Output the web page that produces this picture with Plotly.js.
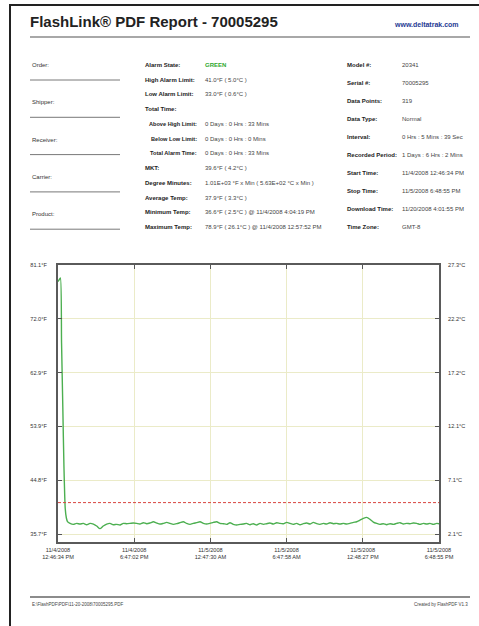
<!DOCTYPE html>
<html>
<head>
<meta charset="utf-8">
<script src="https://cdn.plot.ly/plotly-3.0.1.min.js"></script>
<style>
  html, body { margin: 0; padding: 0; background: #fff; }
  #chart { width: 479px; height: 626px; }
</style>
</head>
<body>
<div id="chart"></div>
<script>
// ---------------- DATA ----------------
const reportTitle = 'FlashLink® PDF Report - 70005295';
const siteText = 'www.deltatrak.com';

// elapsed hours since start (11/4/2008 12:46:34 PM)
const hours = [
  0.00, 0.09, 0.19, 0.28, 0.38, 0.47, 0.57, 0.66, 0.75,
  0.95, 1.21, 1.47, 1.73, 2.00, 2.26, 2.52, 2.79, 3.05, 3.31,
  3.57, 3.84, 4.10, 4.36, 4.63, 4.89, 5.15, 5.41, 5.68, 5.94,
  6.20, 6.46, 6.73, 6.99, 7.25, 7.52, 7.78, 8.04, 8.30, 8.57,
  8.83, 9.09, 9.36, 9.62, 9.88, 10.14, 10.41, 10.67, 10.93, 11.20,
  11.46, 11.72, 11.98, 12.25, 12.51, 12.77, 13.04, 13.30, 13.56, 13.82,
  14.09,
  14.35, 14.61, 14.87, 15.14, 15.40, 15.66, 15.93, 16.19, 16.45, 16.71,
  16.98, 17.24, 17.50, 17.77, 18.03, 18.29, 18.55, 18.82, 19.08, 19.34,
  19.61, 19.87, 20.13, 20.39, 20.66, 20.92, 21.18, 21.45, 21.71, 21.97,
  22.23, 22.50, 22.76, 23.02, 23.29, 23.55, 23.81, 24.07, 24.34, 24.60,
  24.86, 25.13, 25.39, 25.65, 25.91, 26.18, 26.44, 26.70, 26.97, 27.23,
  27.49, 27.75, 28.02, 28.28, 28.54, 28.81, 29.07, 29.33, 29.59, 29.86,
  30.04
];
const tempF = [
  78.3, 78.6, 78.9, 68.0, 57.0, 47.0, 40.0, 38.4, 37.8,
  37.49, 37.33, 37.49, 37.38, 37.49, 37.27, 37.49, 37.38, 37.05, 36.60,
  37.05, 37.38, 37.49, 37.27, 37.33, 37.21, 37.49, 37.44, 37.49, 37.55,
  37.49, 37.38, 37.61, 37.44, 37.55, 37.77, 37.55, 37.38, 37.49, 37.66,
  37.49, 37.33, 37.44, 37.61, 37.77, 37.49, 37.33, 37.49, 37.61, 37.77,
  37.49, 37.38, 37.49, 37.66, 37.77, 37.49, 37.44, 37.33, 37.61, 37.33,
  37.21,
  37.33, 37.38, 37.49, 37.27, 37.44, 37.21, 37.49, 37.33, 37.44, 37.55,
  37.38, 37.61, 37.49, 37.44, 37.66, 37.49, 37.33, 37.49, 37.27, 37.44,
  37.55, 37.38, 37.66, 37.44, 37.33, 37.49, 37.38, 37.61, 37.44, 37.49,
  37.38, 37.49, 37.38, 37.49, 37.66, 37.77, 38.05, 38.33, 38.50, 38.17,
  37.72, 37.49, 37.33, 37.44, 37.27, 37.44, 37.33, 37.49, 37.61, 37.38,
  37.49, 37.44, 37.55, 37.49, 37.33, 37.49, 37.38, 37.49, 37.33, 37.49,
  37.44
];

const highAlarmF = 41.0;
const yRangeF = [34.35, 81.1];
const xRangeHours = [0, 30.0392];

const yTickF = [35.7, 44.8, 53.9, 62.9, 72.0, 81.1];
const yTickFLabels = ['35.7°F', '44.8°F', '53.9°F', '62.9°F', '72.0°F', '81.1°F'];
const yTickCLabels = ['2.1°C', '7.1°C', '12.1°C', '17.2°C', '22.2°C', '27.3°C'];

const xTickHours = [0, 6.0078, 12.0157, 18.0235, 24.0314, 30.0392];
const xTickLabels = [
  '11/4/2008<br>12:46:34 PM', '11/4/2008<br>6:47:02 PM', '11/5/2008<br>12:47:30 AM',
  '11/5/2008<br>6:47:58 AM', '11/5/2008<br>12:48:27 PM', '11/5/2008<br>6:48:55 PM'
];

const leftLabels = ['Order:', 'Shipper:', 'Receiver:', 'Carrier:', 'Product:'];

const midLabels = [
  'Alarm State:', 'High Alarm Limit:', 'Low Alarm Limit:', 'Total Time:',
  'Above High Limit:', 'Below Low Limit:', 'Total Alarm Time:',
  'MKT:', 'Degree Minutes:', 'Average Temp:', 'Minimum Temp:', 'Maximum Temp:'
];
const midValues = [
  'GREEN', '41.0°F ( 5.0°C )', '33.0°F ( 0.6°C )', '',
  '0 Days : 0 Hrs : 33 Mins', '0 Days : 0 Hrs : 0 Mins', '0 Days : 0 Hrs : 33 Mins',
  '39.6°F ( 4.2°C )', '1.01E+03 °F x Min ( 5.63E+02 °C x Min )', '37.9°F ( 3.3°C )',
  '36.6°F ( 2.5°C ) @ 11/4/2008 4:04:19 PM', '78.9°F ( 26.1°C ) @ 11/4/2008 12:57:52 PM'
];
const midIndented = [false, false, false, false, true, true, true, false, false, false, false, false];

const rightLabels = [
  'Model #:', 'Serial #:', 'Data Points:', 'Data Type:', 'Interval:',
  'Recorded Period:', 'Start Time:', 'Stop Time:', 'Download Time:', 'Time Zone:'
];
const rightValues = [
  '20341', '70005295', '319', 'Normal', '0 Hrs : 5 Mins : 39 Sec',
  '1 Days : 6 Hrs : 2 Mins', '11/4/2008 12:46:34 PM', '11/5/2008 6:48:55 PM',
  '11/20/2008 4:01:55 PM', 'GMT-8'
];

const footerLeft = 'E:\\FlashPDF\\PDF\\11-20-2008\\70005295.PDF';
const footerRight = 'Created by FlashPDF V1.3';

// ---------------- LAYOUT HELPERS ----------------
const W = 479, H = 626;
const M = { l: 58, r: 40, t: 265, b: 84 };
const PW = W - M.l - M.r, PH = H - M.t - M.b;
const px = x => (x - M.l) / PW;
const py = y => (H - M.b - y) / PH;
const FONT = 'Liberation Sans, Arial, sans-serif';
const f2c = f => (f - 32) * 5 / 9;

const annotations = [];
const shapes = [];

function txt(x, y, text, opts) {
  opts = opts || {};
  annotations.push({
    xref: 'paper', yref: 'paper', x: px(x), y: py(y), text: text,
    showarrow: false, xanchor: opts.anchor || 'left', yanchor: 'middle',
    font: { family: FONT, size: opts.size || 6.0, color: opts.color || '#333' }
  });
}
function line(x0, y0, x1, y1, color, width, dash) {
  shapes.push({
    type: 'line', xref: 'paper', yref: 'paper',
    x0: px(x0), y0: py(y0), x1: px(x1), y1: py(y1),
    line: { color: color, width: width, dash: dash || 'solid' }
  });
}

// page border
line(9, 5, 485, 5, '#222', 2);
line(10, 4, 10, 630, '#222', 2);
// header
txt(461, 24, '<b>' + siteText + '</b>', { anchor: 'right', size: 7, color: '#1f3a93' });
line(30, 37, 470, 37, '#a8a8a8', 2);

// left column
leftLabels.forEach((lab, i) => {
  const y = 65 + i * 37.3;
  txt(30, y, lab, { color: '#333' });
  line(30, y + 15, 120, y + 15, '#555', 0.8);
});
// middle column
midLabels.forEach((lab, i) => {
  const y = 65 + i * 14.73;
  if (midIndented[i]) {
    txt(199, y, '<b>' + lab + '</b>', { color: '#222', anchor: 'right', size: 5.6 });
  } else {
    txt(143, y, '<b>' + lab + '</b>', { color: '#222' });
  }
  if (midValues[i]) {
    const green = midValues[i] === 'GREEN';
    txt(203, y, green ? '<b>' + midValues[i] + '</b>' : midValues[i],
        { color: green ? '#2fa82f' : '#444' });
  }
});
// right column
rightLabels.forEach((lab, i) => {
  const y = 65 + i * 18;
  txt(345, y, '<b>' + lab + '</b>', { color: '#222' });
  txt(400, y, rightValues[i], { color: '#444' });
});

// alarm limit line (data coords)
shapes.push({
  type: 'line', xref: 'paper', yref: 'y', x0: 0, x1: 1, y0: highAlarmF, y1: highAlarmF,
  line: { color: '#d9453f', width: 1, dash: '3px,2px' }
});

// footer
line(30, 597, 470, 597, '#666', 1.5);
txt(30, 604, footerLeft, { size: 4.5, color: '#444' });
txt(470, 604, footerRight, { anchor: 'right', size: 4.5, color: '#444' });

// ---------------- PLOT ----------------
const traces = [
  {
    x: hours, y: tempF, type: 'scatter', mode: 'lines',
    line: { color: '#4caf50', width: 1.4, shape: 'spline', smoothing: 0.6 },
    hoverinfo: 'skip', showlegend: false
  },
  {
    x: [xRangeHours[0]], y: [f2c(yRangeF[0])], yaxis: 'y2', type: 'scatter', mode: 'markers',
    marker: { opacity: 0 }, hoverinfo: 'skip', showlegend: false
  }
];

const tickFont = { family: FONT, size: 5.6, color: '#333' };
const layout = {
  width: W, height: H,
  margin: M,
  paper_bgcolor: '#fff', plot_bgcolor: '#fff',
  title: {
    text: '<b>' + reportTitle + '</b>',
    xref: 'container', yref: 'container', x: 30 / W, xanchor: 'left',
    y: 1 - 22 / H, yanchor: 'middle',
    font: { family: FONT, size: 15, color: '#222' }
  },
  xaxis: {
    range: xRangeHours, tickvals: xTickHours, ticktext: xTickLabels,
    ticks: 'inside', ticklen: 4, tickcolor: '#555', tickwidth: 1,
    showline: true, linecolor: '#5a5a5a', linewidth: 2, mirror: 'ticks',
    showgrid: true, gridcolor: '#ebebc8', gridwidth: 1, zeroline: false,
    tickfont: tickFont, ticklabelstandoff: 1, fixedrange: true
  },
  yaxis: {
    range: yRangeF, tickvals: yTickF, ticktext: yTickFLabels,
    ticks: 'inside', ticklen: 4, tickcolor: '#555', tickwidth: 1,
    showline: true, linecolor: '#5a5a5a', linewidth: 2,
    showgrid: true, gridcolor: '#ebebc8', gridwidth: 1, zeroline: false,
    tickfont: tickFont, ticklabelstandoff: 8, fixedrange: true
  },
  yaxis2: {
    overlaying: 'y', side: 'right',
    range: yRangeF.map(f2c), tickvals: yTickF.map(f2c), ticktext: yTickCLabels,
    ticks: 'inside', ticklen: 4, tickcolor: '#555', tickwidth: 1,
    showline: true, linecolor: '#5a5a5a', linewidth: 2,
    showgrid: false, zeroline: false,
    tickfont: tickFont, ticklabelstandoff: 6, fixedrange: true
  },
  shapes: shapes,
  annotations: annotations,
  showlegend: false
};

Plotly.newPlot('chart', traces, layout, { displayModeBar: false, staticPlot: true });
</script>
</body>
</html>
